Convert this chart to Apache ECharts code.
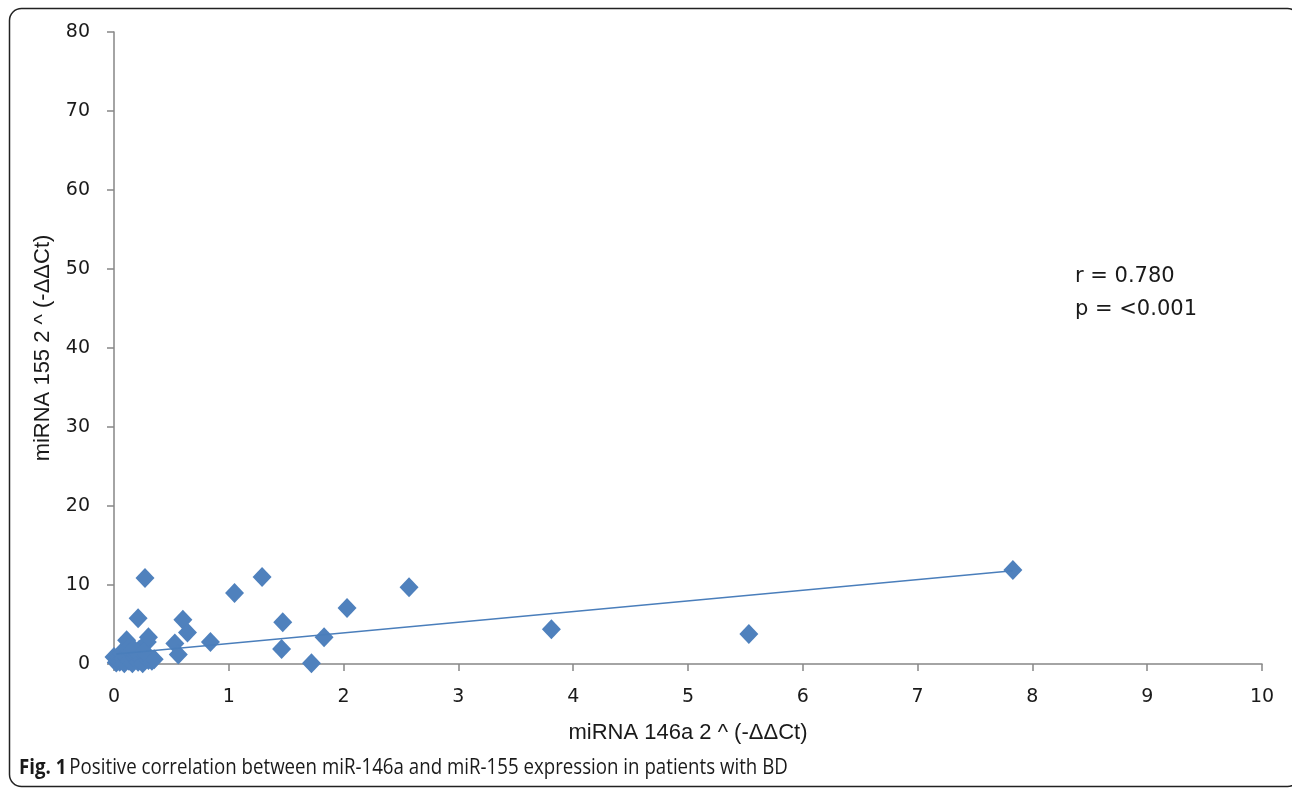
<!DOCTYPE html>
<html>
<head>
<meta charset="utf-8">
<script src="https://cdn.jsdelivr.net/npm/echarts@6/dist/echarts.min.js"></script>
<style>
html,body{margin:0;padding:0;background:#fff;}
#chart{width:1292px;height:789px;}
</style>
</head>
<body>
<div id="chart"></div>
<script>
// miR-146a (x) vs miR-155 (y)
const mir146a = [0.00,0.02,0.03,0.04,0.05,0.06,0.08,0.09,0.10,0.11,0.12,0.13,0.15,0.16,0.18,0.19,0.21,0.22,0.24,0.25,0.27,0.29,0.30,0.33,0.35,0.17,0.26,
  0.27,0.21,0.30,0.60,0.64,0.53,0.56,0.84,1.05,1.29,1.47,1.46,1.72,1.83,2.03,2.57,3.81,5.53,7.83];
const mir155 = [0.9,0.2,0.5,0.9,0.3,1.4,0.6,0.1,1.0,3.0,2.0,0.4,1.5,0.1,0.8,1.2,0.3,1.8,0.6,0.1,1.0,2.8,0.5,0.4,0.6,1.9,1.6,
  10.9,5.8,3.4,5.6,4.0,2.6,1.2,2.8,9.0,11.0,5.3,1.9,0.1,3.4,7.1,9.7,4.4,3.8,11.9];
// trend line end points
const trendX = [0.02, 7.83];
const trendY = [1.28, 11.8];
const xTicks = [0,1,2,3,4,5,6,7,8,9,10];
const yTicks = [0,10,20,30,40,50,60,70,80];
const stats = ['r = 0.780', 'p = <0.001'];

const chart = echarts.init(document.getElementById('chart'));
const pts = mir146a.map((x,i)=>[x, mir155[i]]);
const trend = trendX.map((x,i)=>[x, trendY[i]]);
const labelFont = {fontFamily:'DejaVu Sans', fontSize:19, color:'#1a1a1a'};
chart.setOption({
  animation:false,
  backgroundColor:'#fff',
  grid:{left:114, top:32, width:1148, height:632, containLabel:false},
  xAxis:{
    type:'value', min:xTicks[0], max:xTicks[xTicks.length-1], interval:1,
    name:'miRNA 146a 2 ^ (-ΔΔCt)', nameLocation:'middle', nameGap:58,
    nameTextStyle:{fontFamily:'Liberation Sans', fontSize:22, color:'#1a1a1a'},
    axisLine:{show:true, lineStyle:{color:'#868686', width:1.5}},
    axisTick:{show:true, length:7, lineStyle:{color:'#868686', width:1.5}},
    axisLabel:Object.assign({margin:24}, labelFont),
    splitLine:{show:false}
  },
  yAxis:{
    type:'value', min:yTicks[0], max:yTicks[yTicks.length-1], interval:10,
    name:'miRNA 155 2 ^ (-ΔΔCt)', nameLocation:'middle', nameGap:60,
    nameTextStyle:{fontFamily:'Liberation Sans', fontSize:22, color:'#1a1a1a'},
    axisLine:{show:true, lineStyle:{color:'#868686', width:1.5}},
    axisTick:{show:true, length:7, lineStyle:{color:'#868686', width:1.5}},
    axisLabel:Object.assign({margin:24}, labelFont),
    splitLine:{show:false}
  },
  series:[
    {
      type:'line', data:trend, symbol:'none', silent:true,
      lineStyle:{color:'#4a7ebb', width:1.5}, z:3
    },
    {
      type:'scatter', data:pts, symbol:'diamond', symbolSize:[19,20],
      itemStyle:{color:'#4f81bd', opacity:1}, z:2
    }
  ],
  graphic:[
    {type:'rect', shape:{x:9.5, y:8.5, width:1290, height:778, r:12}, style:{fill:'none', stroke:'#222', lineWidth:1.5}, z:-1},
    {type:'text', x:1075, y:277, style:{text:stats[0], font:'21px "DejaVu Sans"', fill:'#1a1a1a', textVerticalAlign:'middle'}},
    {type:'text', x:1075, y:310, style:{text:stats[1], font:'21px "DejaVu Sans"', fill:'#1a1a1a', textVerticalAlign:'middle'}},
    {type:'text', x:19, y:768, scaleX:0.89, style:{
      textVerticalAlign:'middle',
      rich:{b:{fontFamily:'Open Sans', fontWeight:'bold', fontSize:21, fill:'#1a1a1a'}, n:{fontFamily:'Open Sans', fontSize:21, fill:'#1a1a1a'}},
      text:'{b|Fig. 1} {n|Positive correlation between miR-146a and miR-155 expression in patients with BD}'
    }}
  ]
});
</script>
</body>
</html>
